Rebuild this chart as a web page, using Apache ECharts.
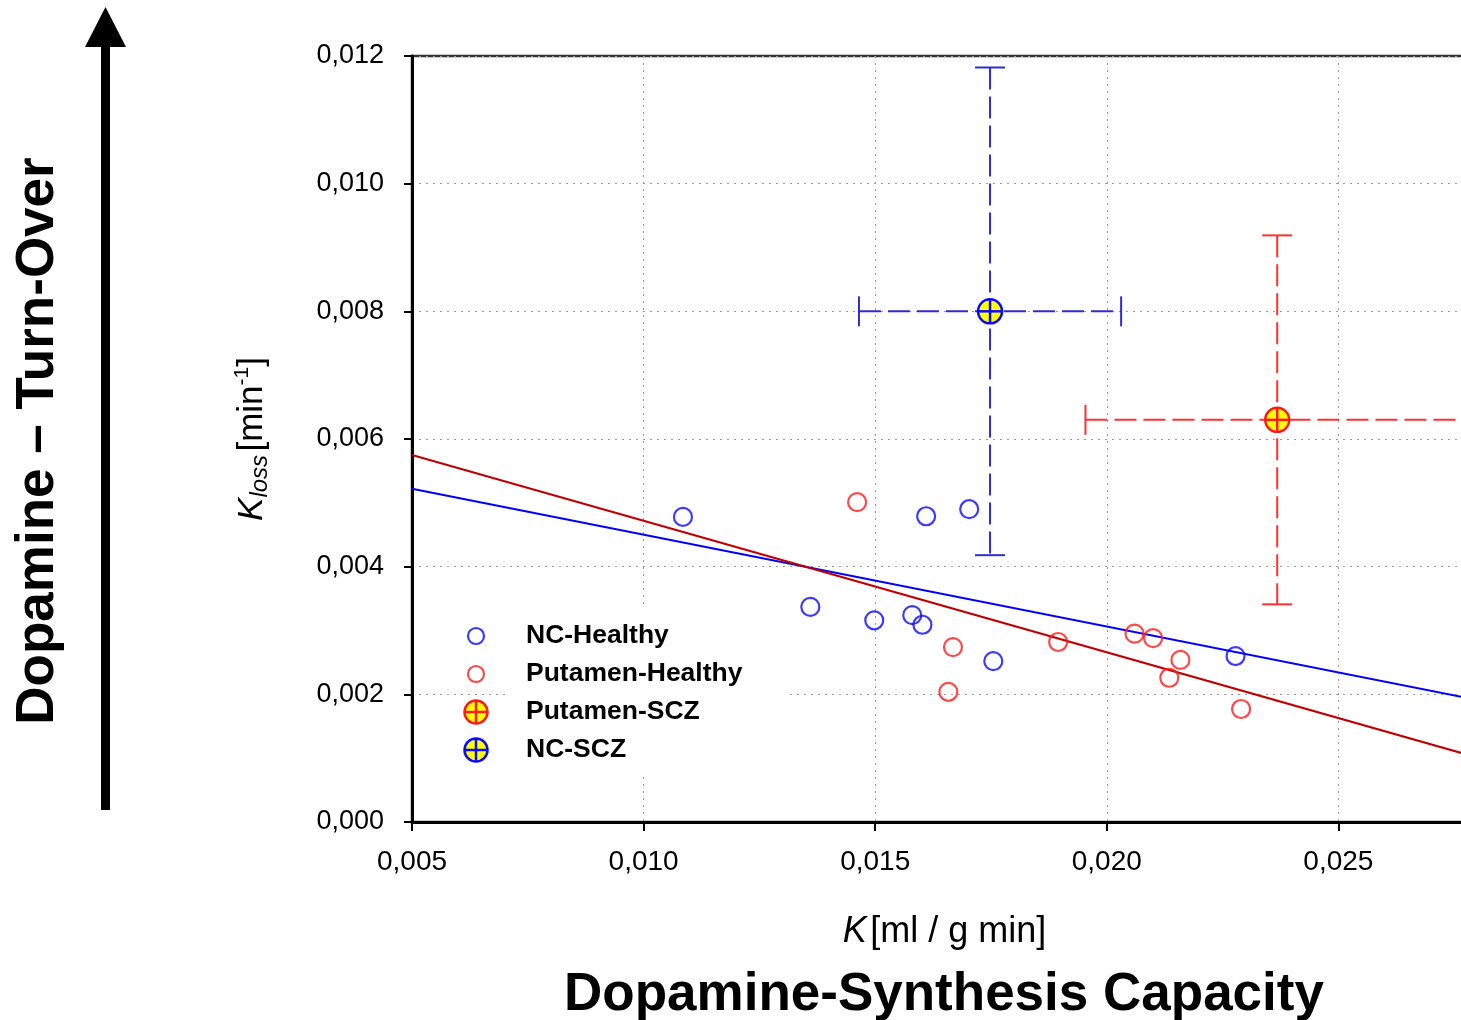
<!DOCTYPE html>
<html>
<head>
<meta charset="utf-8">
<script src="https://cdn.jsdelivr.net/npm/echarts@6/dist/echarts.min.js"></script>
<style>
html,body{margin:0;padding:0;background:#fff;}
#chart{width:1461px;height:1020px;}
</style>
</head>
<body>
<div id="chart"></div>
<script>
// ---- data ----
const ncHealthyK     = [0.01085, 0.0136, 0.01498, 0.0158, 0.01602, 0.0161, 0.01703, 0.01755, 0.02278];
const ncHealthyKloss = [0.00478, 0.00337, 0.00316, 0.00324, 0.00309, 0.00479, 0.0049, 0.00252, 0.0026];
const putHealthyK     = [0.01461, 0.01668, 0.01658, 0.01895, 0.0206, 0.0210, 0.02159, 0.02135, 0.0229];
const putHealthyKloss = [0.00501, 0.00274, 0.00204, 0.00282, 0.00295, 0.00288, 0.00254, 0.00226, 0.00177];
// group means with error (K, Kloss, K error, Kloss error)
const ncSczMean  = [0.01748, 0.0080, 0.00283, 0.00382];
const putSczMean = [0.02368, 0.0063, 0.00414, 0.00289];
// regression lines (end points)
const fitK        = [0.005, 0.02766];
const ncFitKloss  = [0.00522, 0.00196];
const putFitKloss = [0.00575, 0.00108];
// axes
const xMin = 0.005, xMax = 0.0289, xStep = 0.005;
const yMin = 0, yMax = 0.012, yStep = 0.002;
const legendNames = ['NC-Healthy', 'Putamen-Healthy', 'Putamen-SCZ', 'NC-SCZ'];

const FONT = '"Liberation Sans", Arial, sans-serif';
const BLUE = '#0a0aff', RED = '#ff1a1a';
const BLUE_BAR = '#2c2cd6', RED_BAR = '#ff3030';

function zip(a, b) { return a.map((v, i) => [v, b[i]]); }
function fmt(v) { return v.toFixed(3).replace('.', ','); }

function svgIcon(inner) {
  return 'image://data:image/svg+xml;charset=utf-8,' + encodeURIComponent(
    '<svg xmlns="http://www.w3.org/2000/svg" width="28" height="28" viewBox="0 0 28 28">' + inner + '</svg>');
}
const ringIcon = c => svgIcon('<circle cx="14" cy="14" r="8" fill="none" stroke="' + c + '" stroke-width="2.2"/>');
const crossIcon = c => svgIcon('<circle cx="14" cy="14" r="11.5" fill="#ffff00" stroke="' + c + '" stroke-width="2.5"/>' +
  '<line x1="14" y1="2" x2="14" y2="26" stroke="' + c + '" stroke-width="2.5"/>' +
  '<line x1="2" y1="14" x2="26" y2="14" stroke="' + c + '" stroke-width="2.5"/>');

function errRender(barColor, ringColor) {
  return function (params, api) {
    const x = api.value(0), y = api.value(1), ex = api.value(2), ey = api.value(3);
    const c = api.coord([x, y]);
    const top = api.coord([x, y + ey]), bot = api.coord([x, y - ey]);
    const lef = api.coord([x - ex, y]), rig = api.coord([x + ex, y]);
    const dash = { stroke: barColor, lineWidth: 2, lineDash: [22, 7] };
    const solid = { stroke: barColor, lineWidth: 2 };
    const cap = 15, r = 12;
    return {
      type: 'group',
      children: [
        { type: 'line', shape: { x1: top[0], y1: top[1], x2: bot[0], y2: bot[1] }, style: dash },
        { type: 'line', shape: { x1: lef[0], y1: lef[1], x2: rig[0], y2: rig[1] }, style: dash },
        { type: 'line', shape: { x1: top[0] - cap, y1: top[1], x2: top[0] + cap, y2: top[1] }, style: solid },
        { type: 'line', shape: { x1: bot[0] - cap, y1: bot[1], x2: bot[0] + cap, y2: bot[1] }, style: solid },
        { type: 'line', shape: { x1: lef[0], y1: lef[1] - cap, x2: lef[0], y2: lef[1] + cap }, style: solid },
        { type: 'line', shape: { x1: rig[0], y1: rig[1] - cap, x2: rig[0], y2: rig[1] + cap }, style: solid },
        { type: 'circle', shape: { cx: c[0], cy: c[1], r: r }, style: { fill: '#ffff00', stroke: ringColor, lineWidth: 2.5 } },
        { type: 'line', shape: { x1: c[0], y1: c[1] - r, x2: c[0], y2: c[1] + r }, style: { stroke: ringColor, lineWidth: 2.5 } },
        { type: 'line', shape: { x1: c[0] - r, y1: c[1], x2: c[0] + r, y2: c[1] }, style: { stroke: ringColor, lineWidth: 2.5 } }
      ]
    };
  };
}

const chart = echarts.init(document.getElementById('chart'), null, { renderer: 'canvas' });
const gridLeft = 412, gridTop = 56, gridH = 766;
const gridW = Math.round((xMax - xMin) * 46300);

chart.setOption({
  animation: false,
  backgroundColor: '#ffffff',
  grid: { left: gridLeft, top: gridTop, width: gridW, height: gridH, show: true,
          outerBoundsMode: 'none', containLabel: false,
          borderColor: '#333333', borderWidth: 2.5, backgroundColor: 'transparent' },
  xAxis: {
    type: 'value', min: xMin, max: xMax, interval: xStep,
    axisLine: { lineStyle: { color: '#000', width: 3 } },
    axisTick: { length: 9, lineStyle: { color: '#000', width: 2 } },
    splitLine: { show: true, lineStyle: { color: '#9a9a9a', width: 1, type: [2, 5] } },
    axisLabel: { margin: 26, fontSize: 28, fontFamily: FONT, color: '#000',
      formatter: v => (Math.abs(v / xStep - Math.round(v / xStep)) < 1e-6 ? fmt(v) : '') },
    name: '{k|K} {n|[ml / g min]}',
    nameLocation: 'middle', nameGap: 92,
    nameTextStyle: { padding: [0, 42, 0, 0], fontFamily: FONT,
      rich: { k: { fontSize: 36, fontStyle: 'italic', fontFamily: FONT, color: '#000' },
              n: { fontSize: 36, fontFamily: FONT, color: '#000' } } }
  },
  yAxis: {
    type: 'value', min: yMin, max: yMax, interval: yStep,
    axisLine: { lineStyle: { color: '#000', width: 3 } },
    axisTick: { length: 8, lineStyle: { color: '#000', width: 2 } },
    splitLine: { show: true, lineStyle: { color: '#9a9a9a', width: 1, type: [2, 5] } },
    axisLabel: { margin: 28, fontSize: 27, fontFamily: FONT, color: '#000', formatter: v => fmt(v) },
    name: '{k|K}{sub|loss} {n|[min}{sup|-1}{n|]}',
    nameLocation: 'middle', nameRotate: 90, nameGap: 140,
    nameTextStyle: { fontFamily: FONT,
      rich: { k: { fontSize: 35, fontStyle: 'italic', fontFamily: FONT, color: '#000', lineHeight: 40 },
              sub: { fontSize: 24, fontStyle: 'italic', fontFamily: FONT, color: '#000', verticalAlign: 'bottom', lineHeight: 18 },
              n: { fontSize: 35, fontFamily: FONT, color: '#000', lineHeight: 40 },
              sup: { fontSize: 21, fontFamily: FONT, color: '#000', verticalAlign: 'top', lineHeight: 18 } } }
  },
  legend: {
    orient: 'vertical', left: 457, top: 617, itemWidth: 28, itemHeight: 28, itemGap: 10,
    textStyle: { fontFamily: FONT, fontWeight: 'bold', fontSize: 26.5, color: '#000', padding: [0, 0, 0, 31] },
    selectedMode: false,
    data: [
      { name: legendNames[0], icon: ringIcon(BLUE) },
      { name: legendNames[1], icon: ringIcon(RED) },
      { name: legendNames[2], icon: crossIcon(RED) },
      { name: legendNames[3], icon: crossIcon(BLUE) }
    ]
  },
  graphic: [
    { type: 'rect', shape: { x: 505, y: 607, width: 280, height: 166 }, style: { fill: '#ffffff' }, z: 1, silent: true },
    { type: 'rect', shape: { x: 101, y: 44, width: 9, height: 766 }, style: { fill: '#000' }, silent: true },
    { type: 'polygon', shape: { points: [[105.5, 7], [85, 47], [126, 47]] }, style: { fill: '#000' }, silent: true },
    { type: 'text', x: 38, y: 441, rotation: Math.PI / 2,
      style: { text: 'Dopamine – Turn-Over', fontFamily: FONT, fontWeight: 'bold', fontSize: 53, fill: '#000',
               align: 'center', verticalAlign: 'middle' }, silent: true },
    { type: 'text', x: 944, y: 995,
      style: { text: 'Dopamine-Synthesis Capacity', fontFamily: FONT, fontWeight: 'bold', fontSize: 53, fill: '#000',
               align: 'center', verticalAlign: 'middle' }, silent: true }
  ],
  series: [
    { name: 'NC fit', type: 'line', data: zip(fitK, ncFitKloss), showSymbol: false, silent: true, z: 3,
      lineStyle: { color: '#0000ff', width: 2 } },
    { name: 'Putamen fit', type: 'line', data: zip(fitK, putFitKloss), showSymbol: false, silent: true, z: 3,
      lineStyle: { color: '#c00000', width: 2 } },
    { name: legendNames[0], type: 'scatter', data: zip(ncHealthyK, ncHealthyKloss), symbol: 'circle', symbolSize: 18,
      itemStyle: { color: 'rgba(0,0,0,0)', borderColor: BLUE, borderWidth: 2.2 }, z: 4 },
    { name: legendNames[1], type: 'scatter', data: zip(putHealthyK, putHealthyKloss), symbol: 'circle', symbolSize: 18,
      itemStyle: { color: 'rgba(0,0,0,0)', borderColor: RED, borderWidth: 2.2 }, z: 4 },
    { name: legendNames[2], type: 'custom', data: [putSczMean], renderItem: errRender(RED_BAR, RED), z: 5,
      itemStyle: { color: RED }, encode: { x: 0, y: 1 } },
    { name: legendNames[3], type: 'custom', data: [ncSczMean], renderItem: errRender(BLUE_BAR, BLUE), z: 5,
      itemStyle: { color: BLUE }, encode: { x: 0, y: 1 } }
  ]
});
</script>
</body>
</html>
